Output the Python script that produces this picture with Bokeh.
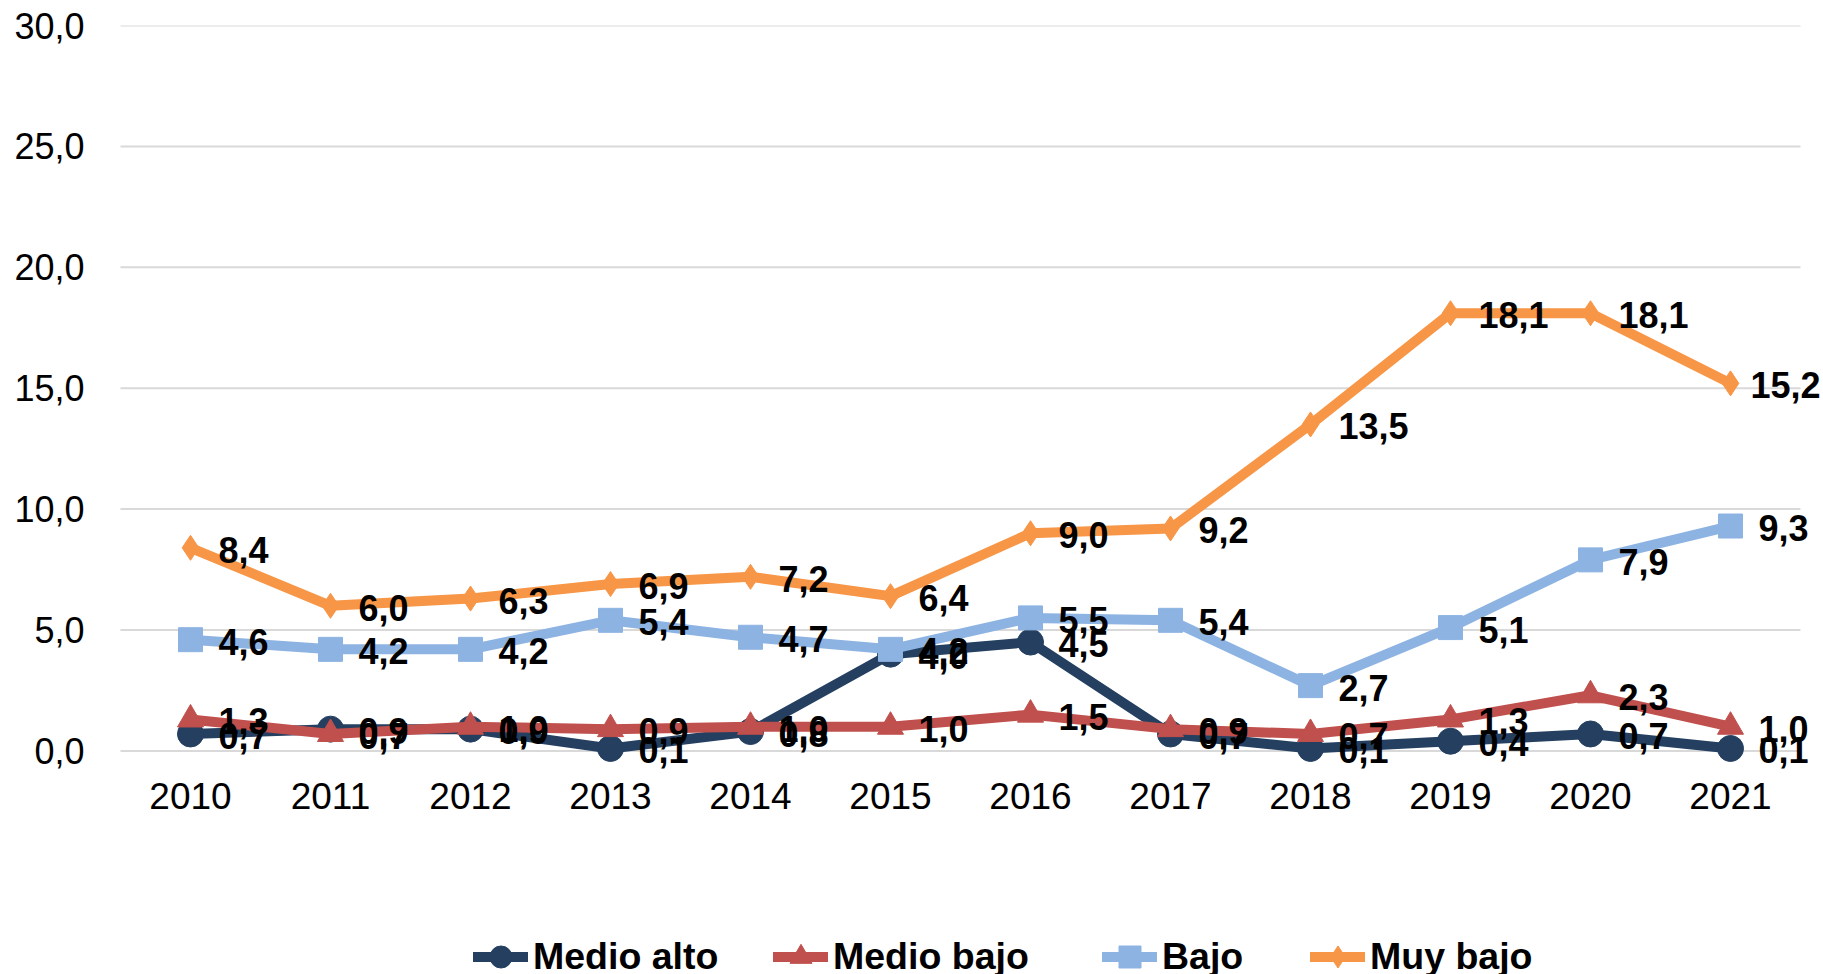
from bokeh.plotting import figure
from bokeh.models import ColumnDataSource, FixedTicker, CustomJSTickFormatter, Legend, LegendItem, Range1d, LabelSet, FactorRange
from bokeh.core.properties import value
from bokeh.embed import file_html
from bokeh.resources import INLINE

years = ["2010", "2011", "2012", "2013", "2014", "2015", "2016", "2017", "2018", "2019", "2020", "2021"]
medio_alto = [0.7, 0.9, 0.9, 0.1, 0.8, 4.0, 4.5, 0.7, 0.1, 0.4, 0.7, 0.1]
medio_bajo = [1.3, 0.7, 1.0, 0.9, 1.0, 1.0, 1.5, 0.9, 0.7, 1.3, 2.3, 1.0]
bajo = [4.6, 4.2, 4.2, 5.4, 4.7, 4.2, 5.5, 5.4, 2.7, 5.1, 7.9, 9.3]
muy_bajo = [8.4, 6.0, 6.3, 6.9, 7.2, 6.4, 9.0, 9.2, 13.5, 18.1, 18.1, 15.2]
y_ticks = [0, 5, 10, 15, 20, 25, 30]

series = [
    ("Medio alto", medio_alto, "#243F60", "circle", 26),
    ("Medio bajo", medio_bajo, "#C0504D", "triangle", 26),
    ("Bajo", bajo, "#8DB3E2", "square", 24),
    ("Muy bajo", muy_bajo, "#F79646", "diamond", 25),
]
# horizontal screen position of each legend entry (px from the plot's left edge)
legend_x = [374, 674, 1003, 1211]

FONT = "Liberation Sans"
H = 974
TOP = 25
PX_PER_UNIT = 24.18
y_start = 30 - (H - TOP) / PX_PER_UNIT

x_range = FactorRange(factors=years, range_padding=0.15, range_padding_units="absolute")
p = figure(x_range=x_range, y_range=Range1d(y_start, 30), width=1823, height=H,
           output_backend="svg", toolbar_location=None,
           min_border_left=99, min_border_right=2, min_border_top=TOP, min_border_bottom=0)
p.outline_line_color = None
p.background_fill_color = "white"
p.border_fill_color = "white"

p.xgrid.grid_line_color = None
p.ygrid.grid_line_color = None
p.xaxis.visible = False
p.segment(x0=0, x1=len(years), y0=y_ticks, y1=y_ticks, line_color="#D9D9D9", line_width=2)

p.yaxis.ticker = FixedTicker(ticks=y_ticks)
p.yaxis.formatter = CustomJSTickFormatter(code="return tick.toFixed(1).replace('.', ',');")
ax = p.yaxis[0]
ax.axis_line_color = None
ax.major_tick_line_color = None
ax.minor_tick_line_color = None
ax.major_label_text_font = FONT
ax.major_label_text_font_size = "36px"
ax.major_label_text_color = "black"
ax.major_tick_in = 0
ax.major_tick_out = 0
ax.major_label_standoff = 15

# category (year) labels under the zero line
year_src = ColumnDataSource(dict(x=years, y=[0] * len(years), t=years))
p.add_layout(LabelSet(x="x", y="y", text="t", source=year_src, y_offset=-45,
                      text_font=value(FONT), text_font_size=value("37px"),
                      text_baseline="middle", text_align="center", text_color="black"))

items = []
sources = []
for name, vals, color, marker, size in series:
    labs = [f"{v:.1f}".replace(".", ",") for v in vals]
    offs = [28] * len(vals)
    if name == "Muy bajo":
        offs[-1] = 20
    src = ColumnDataSource(dict(x=years, y=vals, lab=labs, xo=offs))
    sources.append(src)
    r1 = p.line("x", "y", source=src, line_color=color, line_width=10, line_join="round", line_cap="round")
    r2 = p.scatter("x", "y", source=src, marker=marker, size=size, fill_color=color, line_color=color)
    items.append(LegendItem(label=name, renderers=[r1, r2]))

for src in sources:
    p.add_layout(LabelSet(x="x", y="y", text="lab", source=src, x_offset="xo", y_offset=-2,
                          text_font=value(FONT), text_font_size=value("36px"), text_font_style="bold",
                          text_baseline="middle", text_align="left", text_color="black"))

for item, lx in zip(items, legend_x):
    legend = Legend(items=[item], orientation="horizontal", location=(lx, -10))
    legend.label_text_font = FONT
    legend.label_text_font_size = "37.5px"
    legend.label_text_font_style = "bold"
    legend.label_text_color = "black"
    legend.glyph_width = 55
    legend.glyph_height = 55
    legend.label_standoff = 5
    legend.spacing = 0
    legend.padding = 0
    legend.margin = 0
    legend.border_line_color = None
    legend.background_fill_alpha = 0
    p.add_layout(legend, "center")

open("out.html", "w").write(file_html(p, INLINE))
